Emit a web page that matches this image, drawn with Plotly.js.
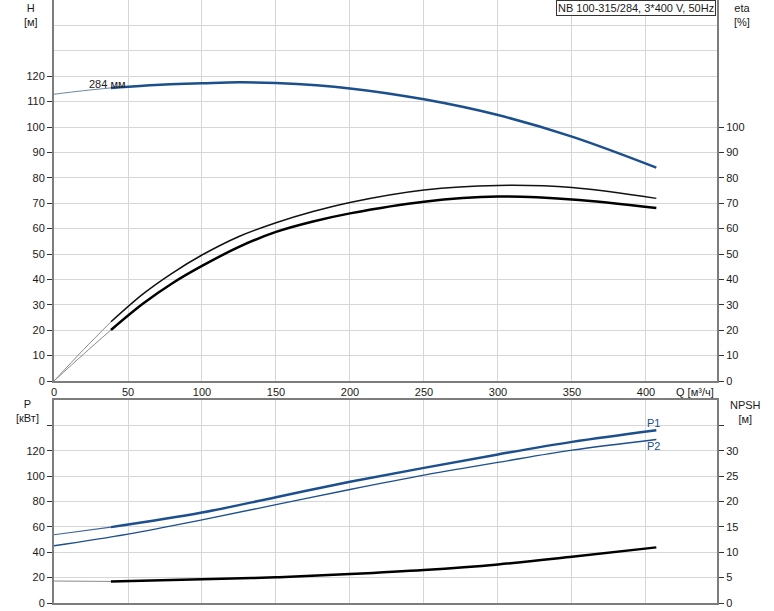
<!DOCTYPE html>
<html>
<head>
<meta charset="utf-8">
<script src="https://cdn.plot.ly/plotly-3.0.1.min.js"></script>
<style>html,body{margin:0;padding:0;background:#fff;}#chart{width:774px;height:611px;}</style>
</head>
<body>
<div id="chart"></div>
<script>
// ---- data ----
// Head curve H [m] vs Q [m3/h]; first 3 points drawn thin (below min flow)
const qH   = [0, 20, 38.5, 75, 100, 125, 150, 200, 250, 300, 350, 407];
const hVal = [112.9, 114.3, 115.4, 116.7, 117.2, 117.6, 117.3, 115.2, 110.9, 104.7, 96.2, 84.0];
// Efficiency curves eta [%]
const qEta1   = [0, 20, 38.5, 60, 80, 100, 125, 150, 175, 200, 250, 300, 350, 407];
const eta1Val = [0, 12.4, 23.3, 34.2, 42.5, 49.6, 56.9, 62.3, 66.7, 70.3, 75.2, 77.0, 76.2, 71.9];
const qEta2   = [0, 20, 38.5, 60, 80, 100, 125, 150, 175, 200, 250, 300, 350, 407];
const eta2Val = [0, 10.6, 20.1, 30.4, 38.5, 45.3, 52.8, 58.7, 62.8, 66.0, 70.6, 72.6, 71.5, 68.1];
// Power curves P [kW]
const qP1   = [0, 38.5, 100, 150, 200, 250, 300, 350, 407];
const p1Val = [53.8, 59.8, 71.3, 83.4, 95.5, 106.5, 117.1, 127.0, 136.2];
const qP2   = [0, 50, 100, 150, 200, 250, 300, 350, 407];
const p2Val = [45.1, 54.3, 65.5, 77.5, 89.5, 100.8, 110.8, 120.5, 128.9];
// NPSH [m]
const qNpsh   = [0, 38.5, 100, 150, 200, 250, 300, 350, 407];
const npshVal = [4.33, 4.25, 4.66, 5.06, 5.7, 6.5, 7.6, 9.1, 10.96];
// tick labels
const qTicks    = [0, 50, 100, 150, 200, 250, 300, 350, 400];
const hTicks    = [0, 10, 20, 30, 40, 50, 60, 70, 80, 90, 100, 110, 120];
const etaTicks  = [0, 10, 20, 30, 40, 50, 60, 70, 80, 90, 100];
const pTicks    = [0, 20, 40, 60, 80, 100, 120, 140];
const pLabels   = ['0', '20', '40', '60', '80', '100', '120', ''];
const npTicks   = [0, 5, 10, 15, 20, 25, 30, 35];
const npLabels  = ['0', '5', '10', '15', '20', '25', '30', ''];
const titleText = 'NB 100-315/284, 3*400 V, 50Hz';
const diamText  = '284 мм';

// ---- styles ----
const BLUE = '#1c4f8e';
const GRID = '#d6d6d6';
const AXL  = '#7d7d7d';
const FONT = {family: 'Liberation Sans, Arial, sans-serif', size: 11, color: '#1a1a1a'};
const SPL = {shape: 'spline', smoothing: 1};

function seg(x, y, xa, ya, color, width, i0, i1) {
  return {x: x.slice(i0, i1), y: y.slice(i0, i1), xaxis: xa, yaxis: ya, type: 'scatter', mode: 'lines',
          line: Object.assign({color: color, width: width}, SPL), hoverinfo: 'skip', showlegend: false};
}

const traces = [
  seg(qH, hVal, 'x', 'y', '#6b86aa', 1, 0, 3),
  seg(qH, hVal, 'x', 'y', BLUE, 2.5, 2),
  seg(qEta1, eta1Val, 'x', 'y2', '#8a8a8a', 1, 0, 3),
  seg(qEta1, eta1Val, 'x', 'y2', '#111', 1.5, 2),
  seg(qEta2, eta2Val, 'x', 'y2', '#8a8a8a', 1, 0, 3),
  seg(qEta2, eta2Val, 'x', 'y2', '#000', 2.5, 2),
  seg(qP1, p1Val, 'x2', 'y3', '#3d6699', 1.2, 0, 2),
  seg(qP1, p1Val, 'x2', 'y3', BLUE, 2.5, 1),
  seg(qP2, p2Val, 'x2', 'y3', BLUE, 1.4, 0),
  seg(qNpsh, npshVal, 'x2', 'y4', '#8a8a8a', 1, 0, 2),
  seg(qNpsh, npshVal, 'x2', 'y4', '#000', 2.5, 1)
];

const W = 774, H = 611, ML = 54, MR = 57, MT = 0, MB = 8;
const PW = W - ML - MR, PH = H - MT - MB;
const px = v => (v - ML) / PW;
const py = v => (H - MB - v) / PH;

const common = {showline: true, linecolor: AXL, linewidth: 2, zeroline: false, tickfont: FONT,
                tickcolor: '#333', ticklen: 5, tickwidth: 1};

const layout = {
  width: W, height: H,
  margin: {l: ML, r: MR, t: MT, b: MB, pad: 0},
  paper_bgcolor: '#fff', plot_bgcolor: '#fff',
  font: FONT, showlegend: false,
  xaxis: Object.assign({}, common, {domain: [0, 1], range: [0, 448], anchor: 'y',
    tickmode: 'array', tickvals: qTicks, ticks: '', showgrid: true, gridcolor: GRID, gridwidth: 1}),
  yaxis: Object.assign({}, common, {domain: [py(381), 1], range: [0, 150], anchor: 'x',
    tickmode: 'array', tickvals: hTicks, ticks: 'outside', showgrid: true, gridcolor: GRID,
    minor: {tickmode: 'array', tickvals: [130, 140], showgrid: true, gridcolor: GRID, ticks: ''}}),
  yaxis2: Object.assign({}, common, {overlaying: 'y', side: 'right', range: [0, 150], anchor: 'x',
    tickmode: 'array', tickvals: etaTicks, ticks: 'outside', showgrid: false}),
  xaxis2: Object.assign({}, common, {domain: [0, 1], range: [0, 448], anchor: 'y3', mirror: true,
    tickmode: 'array', tickvals: qTicks, ticks: '', showticklabels: false, showgrid: true, gridcolor: GRID}),
  yaxis3: Object.assign({}, common, {domain: [0, py(400)], range: [0, 160], anchor: 'x2',
    tickmode: 'array', tickvals: pTicks, ticktext: pLabels, ticks: 'outside', showgrid: true, gridcolor: GRID}),
  yaxis4: Object.assign({}, common, {overlaying: 'y3', side: 'right', range: [0, 40], anchor: 'x2',
    tickmode: 'array', tickvals: npTicks, ticktext: npLabels, ticks: 'outside', showgrid: false}),
  annotations: [
    {xref: 'paper', yref: 'paper', x: px(31), y: py(0), xanchor: 'center', yanchor: 'top',
     text: 'H<br>[м]', showarrow: false, font: FONT, align: 'center'},
    {xref: 'paper', yref: 'paper', x: px(742), y: py(0), xanchor: 'center', yanchor: 'top',
     text: 'eta<br>[%]', showarrow: false, font: FONT, align: 'center'},
    {xref: 'paper', yref: 'paper', x: px(695), y: py(392), xanchor: 'center', yanchor: 'middle',
     text: 'Q [м³/ч]', showarrow: false, font: FONT},
    {xref: 'paper', yref: 'paper', x: px(27), y: py(396), xanchor: 'center', yanchor: 'top',
     text: 'P<br>[кВт]', showarrow: false, font: FONT, align: 'center'},
    {xref: 'paper', yref: 'paper', x: px(745), y: py(397), xanchor: 'center', yanchor: 'top',
     text: 'NPSH<br>[м]', showarrow: false, font: FONT, align: 'center'},
    {xref: 'paper', yref: 'paper', x: px(716), y: py(0), xanchor: 'right', yanchor: 'top',
     text: titleText, showarrow: false, font: FONT, bgcolor: '#fff', bordercolor: '#333', borderwidth: 1, borderpad: 1},
    {xref: 'x', yref: 'y', x: 36, y: 117.0, xanchor: 'center', yanchor: 'middle',
     text: diamText, showarrow: false, font: FONT},
    {xref: 'x2', yref: 'y3', x: 405, y: 141.5, xanchor: 'center', yanchor: 'middle',
     text: 'P1', showarrow: false, font: Object.assign({}, FONT, {color: BLUE})},
    {xref: 'x2', yref: 'y3', x: 405, y: 123.5, xanchor: 'center', yanchor: 'middle',
     text: 'P2', showarrow: false, font: Object.assign({}, FONT, {color: BLUE})}
  ]
};

Plotly.newPlot('chart', traces, layout, {staticPlot: true, displayModeBar: false});
</script>
</body>
</html>
